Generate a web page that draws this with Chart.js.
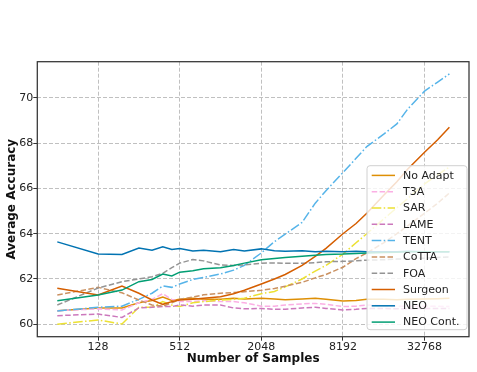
<!DOCTYPE html>
<html>
<head>
<meta charset="utf-8">
<script src="https://cdn.jsdelivr.net/npm/chart.js@4.4.1/dist/chart.umd.min.js"></script>
<style>
  body { margin: 0; background: #fff; }
</style>
</head>
<body>
<canvas id="accChart" width="477" height="372"></canvas>
<script>
// number of samples seen (x axis is log2)
const samples = [64, 128, 192, 256, 320, 384, 448, 512, 640, 768, 1024, 1280, 1536, 2048,
  2560, 3072, 4096, 5120, 6144, 8192, 10240, 12288, 16384, 20480, 24576, 32768, 40960, 50000];
const xTicks = [128, 512, 2048, 8192, 32768];
const yTicks = [60, 62, 64, 66, 68, 70];

// average accuracy per method
const noAdapt = [60.6, 60.72, 60.72, 60.95, 61.05, 61.2, 61.05, 61.1, 61.15, 61.1, 61.1, 61.15, 61.12, 61.15,
  61.12, 61.08, 61.12, 61.15, 61.1, 61.03, 61.05, 61.1, 61.1, 61.08, 61.1, 61.12, 61.13, 61.15];
const t3a = [60.6, 60.68, 60.63, 60.95, 61.1, 61.35, 61.1, 61.0, 61.0, 61.05, 61.0, 61.0, 60.95, 60.8,
  60.8, 60.85, 60.9, 60.92, 60.88, 60.78, 60.8, 60.85, 60.82, 60.8, 60.8, 60.8, 60.8, 60.78];
const sar = [60.0, 60.19, 60.01, 60.75, 60.75, 61.0, 60.85, 60.78, 60.95, 61.0, 61.07, 61.1, 61.15, 61.35,
  61.45, 61.65, 62.0, 62.35, 62.6, 63.1, 63.6, 64.0, 64.65, 65.15, 65.55, 66.2, 66.6, 66.95];
const lame = [60.38, 60.45, 60.3, 60.72, 60.75, 60.78, 60.78, 60.85, 60.8, 60.85, 60.85, 60.72, 60.68, 60.7,
  60.66, 60.66, 60.72, 60.75, 60.7, 60.63, 60.66, 60.7, 60.7, 60.68, 60.68, 60.7, 60.7, 60.7];
const tent = [60.59, 60.75, 60.8, 61.1, 61.37, 61.69, 61.63, 61.78, 61.98, 62.07, 62.22, 62.39, 62.6, 63.15,
  63.65, 63.98, 64.5, 65.35, 65.9, 66.7, 67.33, 67.85, 68.4, 68.85, 69.5, 70.3, 70.7, 71.06];
const cotta = [61.29, 61.63, 61.39, 61.07, 60.85, 60.8, 60.95, 61.1, 61.2, 61.3, 61.37, 61.4, 61.44, 61.5,
  61.58, 61.68, 61.85, 62.05, 62.2, 62.52, 62.9, 63.15, 63.6, 64.0, 64.35, 64.9, 65.35, 65.8];
const foa = [60.85, 61.6, 61.88, 62.0, 62.1, 62.25, 62.5, 62.7, 62.86, 62.8, 62.62, 62.6, 62.62, 62.7,
  62.71, 62.69, 62.69, 62.72, 62.76, 62.78, 62.8, 62.83, 62.85, 62.88, 62.9, 62.92, 62.95, 62.97];
const surgeon = [61.59, 61.29, 61.69, 61.37, 61.07, 60.88, 61.0, 61.07, 61.1, 61.15, 61.22, 61.35, 61.5, 61.78,
  62.0, 62.2, 62.6, 63.0, 63.35, 64.0, 64.45, 64.9, 65.7, 66.3, 66.85, 67.6, 68.15, 68.7];
const neo = [63.64, 63.1, 63.08, 63.37, 63.27, 63.42, 63.3, 63.35, 63.24, 63.27, 63.2, 63.3, 63.24, 63.33,
  63.25, 63.22, 63.25, 63.2, 63.22, 63.2, 63.22, 63.2, 63.2, 63.2, 63.22, 63.2, 63.2, 63.2];
const neoCont = [61.04, 61.29, 61.51, 61.88, 61.98, 62.22, 62.13, 62.3, 62.36, 62.45, 62.5, 62.6, 62.7, 62.85,
  62.9, 62.95, 63.0, 63.05, 63.08, 63.1, 63.13, 63.15, 63.17, 63.18, 63.2, 63.2, 63.2, 63.2];

const series = [
  ['No Adapt', noAdapt, '#de8f05', []],
  ['T3A', t3a, '#fbafe4', [5.5, 2.4]],
  ['SAR', sar, '#ece133', [9.6, 2.4, 1.5, 2.4]],
  ['LAME', lame, '#cc78bc', [5.5, 2.4]],
  ['TENT', tent, '#56b4e9', [9.6, 2.4, 1.5, 2.4]],
  ['CoTTA', cotta, '#ca9161', [5.5, 2.4]],
  ['FOA', foa, '#949494', [5.5, 2.4]],
  ['Surgeon', surgeon, '#d55e00', []],
  ['NEO', neo, '#0173b2', []],
  ['NEO Cont.', neoCont, '#029e73', []]
];

const datasets = series.map(([name, vals, color, dash], i) => ({
  label: name,
  data: vals.map((v, j) => ({ x: Math.log2(samples[j]), y: v })),
  borderColor: color,
  backgroundColor: color,
  borderWidth: 1.5,
  borderDash: dash,
  pointRadius: 0,
  tension: 0,
  order: series.length - i
}));

// spines on all four sides
const frame = {
  id: 'frame',
  afterDatasetsDraw(chart) {
    const { ctx, chartArea: a } = chart;
    ctx.save();
    ctx.strokeStyle = '#333';
    ctx.lineWidth = 1.25;
    ctx.strokeRect(a.left, a.top, a.right - a.left, a.bottom - a.top);
    ctx.restore();
  }
};

// matplotlib style legend in the lower right of the plot
const boxLegend = {
  id: 'boxLegend',
  afterDraw(chart) {
    const { ctx, chartArea: a } = chart;
    const w = 100, h = 164;
    const x0 = a.right - w - 2, y0 = a.bottom - h - 7;
    ctx.save();
    ctx.beginPath();
    ctx.roundRect(x0, y0, w, h, 3);
    ctx.fillStyle = 'rgba(255,255,255,0.8)';
    ctx.fill();
    ctx.strokeStyle = '#d0d0d0';
    ctx.lineWidth = 1;
    ctx.stroke();
    ctx.font = '11px "DejaVu Sans"';
    ctx.textBaseline = 'middle';
    series.forEach(([name, , color, dash], i) => {
      const y = y0 + 9.7 + i * 16.3;
      ctx.beginPath();
      ctx.setLineDash(dash);
      ctx.strokeStyle = color;
      ctx.lineWidth = 1.5;
      ctx.moveTo(x0 + 4.7, y);
      ctx.lineTo(x0 + 28, y);
      ctx.stroke();
      ctx.setLineDash([]);
      ctx.fillStyle = '#222';
      ctx.fillText(name, x0 + 36, y + 0.5);
    });
    ctx.restore();
  }
};

new Chart(document.getElementById('accChart'), {
  type: 'line',
  data: { datasets },
  options: {
    responsive: false,
    animation: false,
    layout: { padding: { top: 61.7, right: 8, left: 0, bottom: 0 } },
    plugins: { legend: { display: false }, tooltip: { enabled: false } },
    scales: {
      x: {
        type: 'linear',
        min: 5.51,
        max: 16.09,
        afterBuildTicks: s => { s.ticks = xTicks.map(v => ({ value: Math.log2(v) })); },
        afterFit: s => { s.height = 35.3; },
        ticks: {
          autoSkip: false, maxRotation: 0, padding: 0,
          color: '#222', font: { family: 'DejaVu Sans', size: 11 },
          callback: v => String(Math.round(Math.pow(2, v)))
        },
        grid: { color: '#c0c0c0', lineWidth: 1, tickLength: 4, tickColor: '#333', tickWidth: 1, tickBorderDash: [] },
        border: { display: false, dash: [4, 2] },
        title: {
          display: true, text: 'Number of Samples', color: '#111',
          font: { family: 'DejaVu Sans', size: 12, weight: 'bold' },
          padding: { top: 0, bottom: 6.3 }
        }
      },
      y: {
        min: 59.45,
        max: 71.6,
        afterBuildTicks: s => { s.ticks = yTicks.map(v => ({ value: v })); },
        afterFit: s => { s.width = 37.3; },
        ticks: { padding: 0, color: '#222', font: { family: 'DejaVu Sans', size: 11 } },
        grid: { color: '#c0c0c0', lineWidth: 1, tickLength: 4, tickColor: '#333', tickWidth: 1, tickBorderDash: [] },
        border: { display: false, dash: [4, 2] },
        title: {
          display: true, text: 'Average Accuracy', color: '#111',
          font: { family: 'DejaVu Sans', size: 12, weight: 'bold' },
          padding: { top: 5, bottom: 0 }
        }
      }
    }
  },
  plugins: [frame, boxLegend]
});
</script>
</body>
</html>
